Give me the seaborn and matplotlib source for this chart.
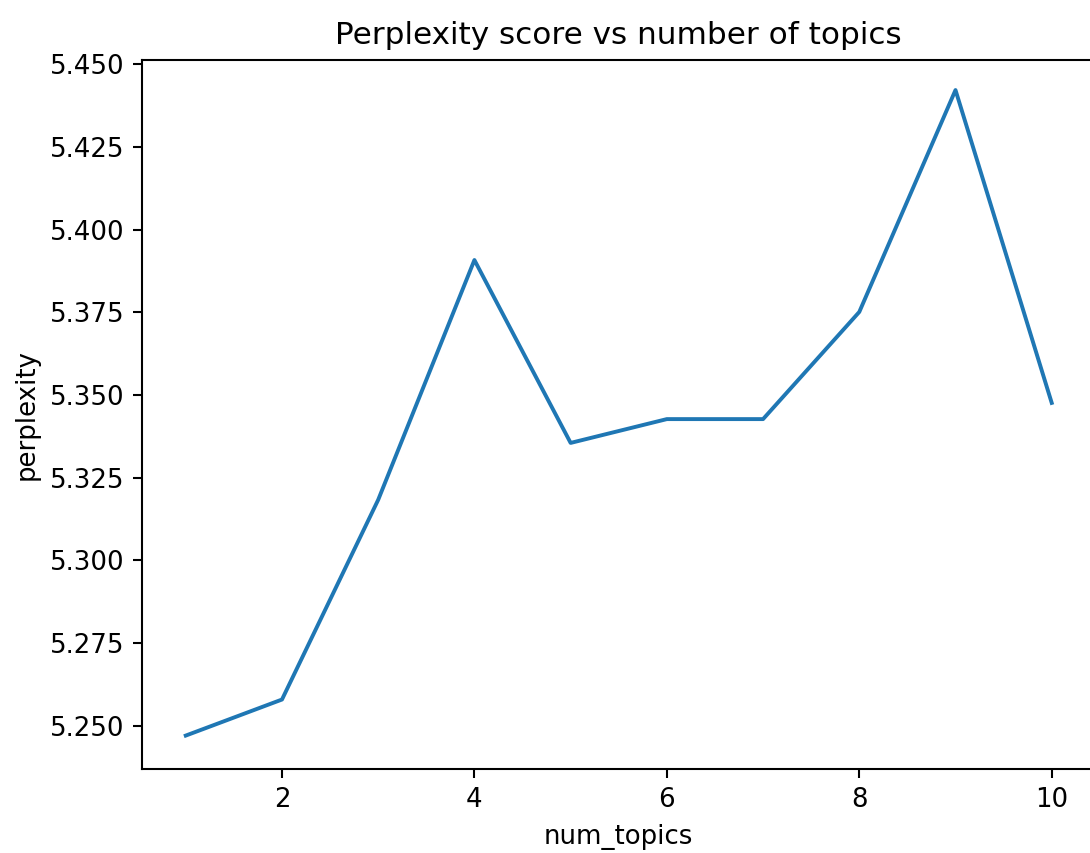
import matplotlib
matplotlib.use("Agg")
import matplotlib.pyplot as plt
import seaborn as sns
import pandas as pd

num_topics = [1, 2, 3, 4, 5, 6, 7, 8, 9, 10]
perplexity = [5.2470, 5.2579, 5.3183, 5.3908, 5.3355, 5.3427, 5.3427, 5.3751, 5.4422, 5.3476]

df = pd.DataFrame({"num_topics": num_topics, "perplexity": perplexity})

DPI = 187
fig = plt.figure(figsize=(1090 / DPI, 853 / DPI), dpi=DPI)
ax = fig.add_axes([0.1307, 0.0985, 0.8739, 0.8312])

sns.lineplot(data=df, x="num_topics", y="perplexity", ax=ax, color="#1f77b4", linewidth=1.5)
ax.set_ylim(5.2369, 5.4513)
ax.set_title("Perplexity score vs number of topics", fontsize=12)
ax.set_xlabel("num_topics")
ax.set_ylabel("perplexity")

fig.savefig("out.png", dpi=DPI)
